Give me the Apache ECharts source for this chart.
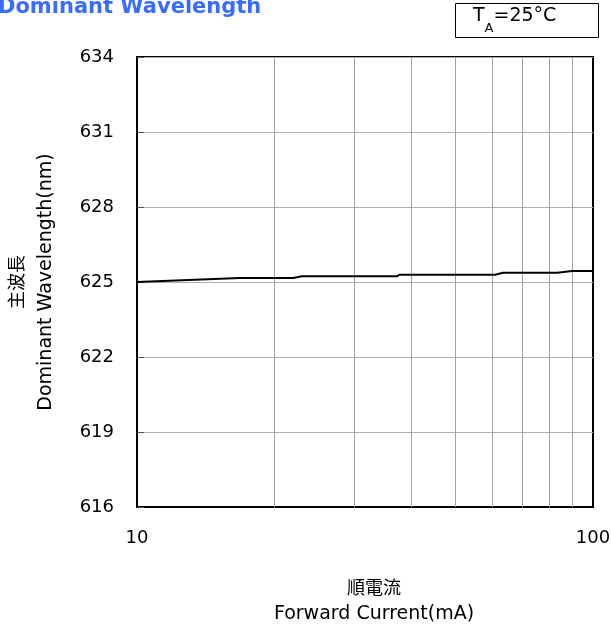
<!DOCTYPE html>
<html><head><meta charset="utf-8">
<script src="https://cdn.jsdelivr.net/npm/echarts@6/dist/echarts.min.js"></script>
<style>html,body{margin:0;padding:0;background:#fff}#c{width:611px;height:627px}</style>
</head><body><div id="c"></div>
<script>
// Forward current (mA) and dominant wavelength (nm)
const currents    = [10, 16.8, 22.0, 23.0, 37.2, 37.6, 61.0, 63.5, 83.5, 90.0, 100];
const wavelengths = [625.0, 625.16, 625.16, 625.23, 625.23, 625.29, 625.29, 625.37, 625.37, 625.44, 625.44];
const xGridValues = [20, 30, 40, 50, 60, 70, 80, 90];
const xRange = [10, 100];
const yRange = [616, 634];
const yStep = 3;
const titleText = 'Dominant Wavelength';
const yNameCn = '主波長', yNameEn = 'Dominant Wavelength(nm)';
const xNameCn = '順電流', xNameEn = 'Forward Current(mA)';

const seriesData = currents.map((c, i) => [c, wavelengths[i]]);
const FONT = 'DejaVu Sans';
const CJK = 'Noto Sans CJK JP';

const chart = echarts.init(document.getElementById('c'), null, {renderer: 'canvas'});
chart.setOption({
  backgroundColor: '#fff',
  animation: false,
  title: {
    text: titleText, left: -2, top: -3, padding: 0,
    textStyle: {fontFamily: FONT, fontSize: 21, fontWeight: 'bold', color: '#3a6bff'}
  },
  grid: {left: 137, right: 18, top: 57, bottom: 120, show: true, borderColor: '#000', borderWidth: 2,
         backgroundColor: 'transparent', containLabel: false, outerBoundsMode: 'none'},
  xAxis: {
    type: 'log', logBase: 10, min: xRange[0], max: xRange[1],
    axisLine: {show: true, lineStyle: {color: '#000', width: 2}},
    axisTick: {show: false},
    splitLine: {show: false},
    axisLabel: {fontFamily: FONT, fontSize: 18, color: '#000', margin: 22},
    name: '{cn|' + xNameCn + '}\n{en|' + xNameEn + '}',
    nameLocation: 'middle', nameGap: 67,
    nameTextStyle: {padding: [0, 0, 0, 18], rich: {
      cn: {fontFamily: CJK, fontSize: 18, lineHeight: 27, color: '#000'},
      en: {fontFamily: FONT, fontSize: 19, lineHeight: 27, color: '#000'}
    }}
  },
  yAxis: {
    type: 'value', min: yRange[0], max: yRange[1], interval: yStep,
    axisLine: {show: true, lineStyle: {color: '#000', width: 2}},
    axisTick: {show: true, inside: true, length: 7, lineStyle: {color: '#555', width: 1}},
    splitLine: {show: true, lineStyle: {color: '#b0b0b0', width: 1}},
    axisLabel: {fontFamily: FONT, fontSize: 18, color: '#000', margin: 23},
    name: '{cn|' + yNameCn + '}\n{en|' + yNameEn + '}',
    nameLocation: 'middle', nameRotate: 90, nameGap: 76,
    nameTextStyle: {rich: {
      cn: {fontFamily: CJK, fontSize: 18, lineHeight: 30, color: '#000'},
      en: {fontFamily: FONT, fontSize: 19, lineHeight: 30, color: '#000'}
    }}
  },
  series: [{
    type: 'line', data: seriesData, showSymbol: false, symbol: 'none', z: 5,
    lineStyle: {color: '#000', width: 2},
    markLine: {
      silent: true, symbol: 'none', label: {show: false},
      lineStyle: {color: '#a0a0a0', width: 1, type: 'solid'},
      data: xGridValues.map(v => ({xAxis: v}))
    }
  }],
  graphic: [
    {type: 'rect', left: 455, top: 3, shape: {width: 143, height: 34},
     style: {fill: '#fff', stroke: '#000', lineWidth: 1}},
    {type: 'text', left: 473, top: 7,
     style: {text: '{m|T}{s|A}{m|=25°C}', rich: {
       m: {fontFamily: FONT, fontSize: 19, lineHeight: 28, verticalAlign: 'top', fill: '#000', color: '#000'},
       s: {fontFamily: FONT, fontSize: 13, lineHeight: 28, verticalAlign: 'bottom', fill: '#000', color: '#000'}
     }}}
  ]
});
</script>
</body></html>
